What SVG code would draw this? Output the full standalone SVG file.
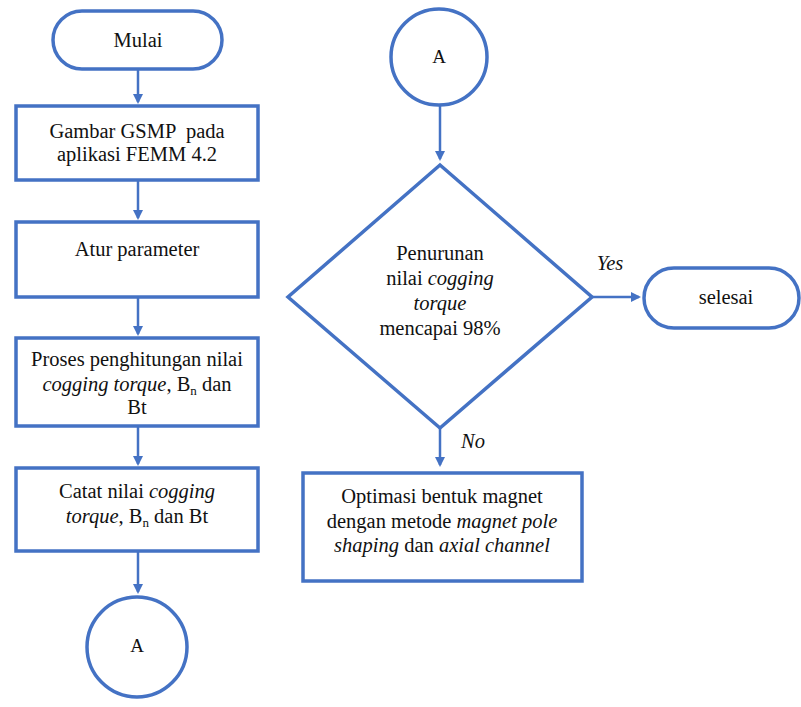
<svg xmlns="http://www.w3.org/2000/svg" width="801" height="707" viewBox="0 0 801 707">
<style>
.s{fill:#fff;stroke:#4472C4;stroke-width:3.5}
.c{stroke:#4472C4;stroke-width:2.5;fill:none}
</style>
<defs>
<marker id="ah" markerWidth="10" markerHeight="10" refX="8" refY="5" orient="auto" markerUnits="userSpaceOnUse">
<path d="M0,0 L10,5 L0,10 z" fill="#4472C4"/>
</marker>
</defs>
<rect width="801" height="707" fill="#fff"/>
<g id="connectors">
<line class="c" x1="138" y1="70" x2="138" y2="102" marker-end="url(#ah)"/>
<line class="c" x1="138" y1="181" x2="138" y2="218" marker-end="url(#ah)"/>
<line class="c" x1="138" y1="297" x2="138" y2="334" marker-end="url(#ah)"/>
<line class="c" x1="138" y1="426" x2="138" y2="464" marker-end="url(#ah)"/>
<line class="c" x1="138" y1="551" x2="138" y2="592" marker-end="url(#ah)"/>
<line class="c" x1="440" y1="105" x2="440" y2="159" marker-end="url(#ah)"/>
<line class="c" x1="592" y1="297" x2="639" y2="297" marker-end="url(#ah)"/>
<line class="c" x1="440" y1="428" x2="440" y2="465" marker-end="url(#ah)"/>
<text x="610" y="270" font-family="Liberation Serif" font-size="20.5" font-style="italic" fill="#111" text-anchor="middle" style="font-family:Liberation Serif">Yes</text>
<text x="473" y="448" font-family="Liberation Serif" font-size="20.5" font-style="italic" fill="#111" text-anchor="middle" style="font-family:Liberation Serif">No</text>
</g>
<g id="mulai">
<rect class="s" x="53" y="11" width="169" height="58" rx="29"/>
<text x="138" y="47" font-family="Liberation Serif" font-size="20.5" fill="#111" text-anchor="middle" style="font-family:Liberation Serif">Mulai</text>
</g>
<g id="gambar">
<rect class="s" x="16" y="106" width="242" height="74"/>
<text x="137" y="138" font-family="Liberation Serif" font-size="20.5" fill="#111" text-anchor="middle" style="font-family:Liberation Serif" xml:space="preserve">Gambar GSMP  pada</text>
<text x="137" y="161" font-family="Liberation Serif" font-size="20.5" fill="#111" text-anchor="middle" style="font-family:Liberation Serif">aplikasi FEMM 4.2</text>
</g>
<g id="atur">
<rect class="s" x="16" y="222" width="242" height="75"/>
<text x="137" y="256" font-family="Liberation Serif" font-size="20.5" fill="#111" text-anchor="middle" style="font-family:Liberation Serif">Atur parameter</text>
</g>
<g id="proses">
<rect class="s" x="16" y="338" width="242" height="88"/>
<text x="137" y="366" font-family="Liberation Serif" font-size="20.5" fill="#111" text-anchor="middle" style="font-family:Liberation Serif">Proses penghitungan nilai</text>
<text x="137" y="391" font-family="Liberation Serif" font-size="20.5" fill="#111" text-anchor="middle" style="font-family:Liberation Serif"><tspan font-style="italic">cogging torque</tspan>, B<tspan font-size="13" dy="4">n</tspan><tspan dy="-4"> dan</tspan></text>
<text x="137" y="414" font-family="Liberation Serif" font-size="20.5" fill="#111" text-anchor="middle" style="font-family:Liberation Serif">Bt</text>
</g>
<g id="catat">
<rect class="s" x="16" y="468" width="242" height="83"/>
<text x="137" y="498" font-family="Liberation Serif" font-size="20.5" fill="#111" text-anchor="middle" style="font-family:Liberation Serif">Catat nilai <tspan font-style="italic">cogging</tspan></text>
<text x="137" y="523" font-family="Liberation Serif" font-size="20.5" fill="#111" text-anchor="middle" style="font-family:Liberation Serif"><tspan font-style="italic">torque</tspan>, B<tspan font-size="13" dy="4">n</tspan><tspan dy="-4"> dan Bt</tspan></text>
</g>
<g id="a1">
<circle class="s" cx="137" cy="647" r="50"/>
<text x="137" y="652" font-family="Liberation Serif" font-size="19" fill="#111" text-anchor="middle" style="font-family:Liberation Serif">A</text>
</g>
<g id="a2">
<circle class="s" cx="439" cy="57" r="48"/>
<text x="439" y="63" font-family="Liberation Serif" font-size="19" fill="#111" text-anchor="middle" style="font-family:Liberation Serif">A</text>
</g>
<g id="decision">
<polygon class="s" points="440,165 592,297 440,428 288,297"/>
<text x="440" y="260" font-family="Liberation Serif" font-size="20.5" fill="#111" text-anchor="middle" style="font-family:Liberation Serif">Penurunan</text>
<text x="440" y="285" font-family="Liberation Serif" font-size="20.5" fill="#111" text-anchor="middle" style="font-family:Liberation Serif">nilai <tspan font-style="italic">cogging</tspan></text>
<text x="440" y="310" font-family="Liberation Serif" font-size="20.5" font-style="italic" fill="#111" text-anchor="middle" style="font-family:Liberation Serif">torque</text>
<text x="440" y="335" font-family="Liberation Serif" font-size="20.5" fill="#111" text-anchor="middle" style="font-family:Liberation Serif">mencapai 98%</text>
</g>
<g id="selesai">
<rect class="s" x="644" y="268" width="155" height="60" rx="30"/>
<text x="726" y="304" font-family="Liberation Serif" font-size="20.5" fill="#111" text-anchor="middle" style="font-family:Liberation Serif">selesai</text>
</g>
<g id="optimasi">
<rect class="s" x="303" y="473" width="279" height="108"/>
<text x="442" y="503" font-family="Liberation Serif" font-size="20.5" fill="#111" text-anchor="middle" style="font-family:Liberation Serif">Optimasi bentuk magnet</text>
<text x="442" y="528" font-family="Liberation Serif" font-size="20.5" fill="#111" text-anchor="middle" style="font-family:Liberation Serif">dengan metode <tspan font-style="italic">magnet pole</tspan></text>
<text x="442" y="552" font-family="Liberation Serif" font-size="20.5" fill="#111" text-anchor="middle" style="font-family:Liberation Serif"><tspan font-style="italic">shaping</tspan> dan <tspan font-style="italic">axial channel</tspan></text>
</g>
</svg>
